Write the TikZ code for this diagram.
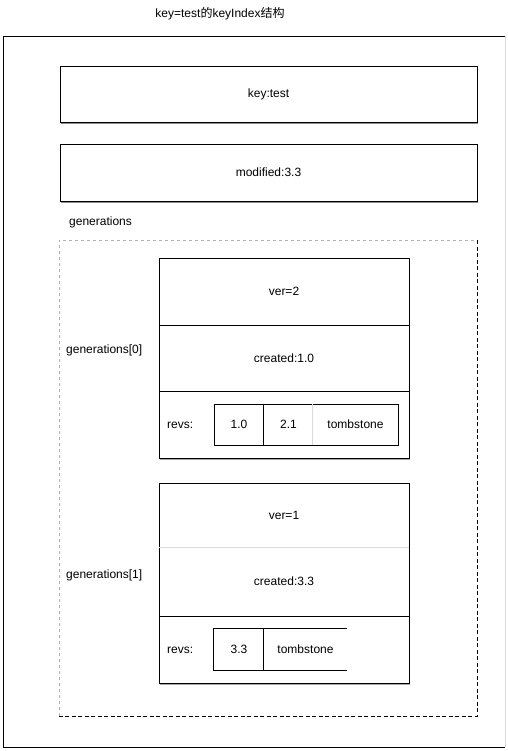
\documentclass[tikz,border=0pt]{standalone}
\usepackage{fontspec}
\setmainfont{Liberation Sans}
\newfontfamily\cjk{Noto Sans CJK SC}
\usetikzlibrary{shadows}
\tikzset{
  every node/.style={font=\fontsize{12}{14}\selectfont, inner sep=0pt},
  box/.style={draw=black, line width=0.9pt, fill=white, minimum width=417pt, minimum height=56pt,
    drop shadow={shadow xshift=0.8pt, shadow yshift=-1.6pt, fill=black!45, opacity=1}},
  gbox/.style={draw=black, line width=0.9pt, fill=white, minimum width=250pt, minimum height=200pt,
    drop shadow={shadow xshift=0.8pt, shadow yshift=-1.6pt, fill=black!35, opacity=1}},
  cell/.style={draw=black, line width=0.9pt, minimum width=250pt},
  softcell/.style={minimum width=250pt},
  lbl/.style={anchor=west},
  ln/.style={line width=0.9pt},
  faint/.style={line width=0.8pt, draw=black!15},
}
\begin{document}
\begin{tikzpicture}[x=1pt,y=-1pt]
\useasboundingbox (0,0) rectangle (507,751);
% title
\node (title) at (220,14) {key=test{\cjk 的}keyIndex{\cjk 结构}};
% outer frame
\coordinate (otl) at (3.5,36);
\coordinate (otr) at (505,36);
\coordinate (obl) at (3.5,747);
\coordinate (obr) at (505,747);
\draw[ln] (otr) -- (otl) -- (obl) -- (obr);
\draw[faint] (otr) -- (obr);
% key / modified
\node[box] (key) at (268.5,94) {key:test};
\node[box, minimum height=57pt] (mod) at (268.5,172.5) {modified:3.3};
\node[lbl] (gens) at (69,222) {generations};
% dashed generations box
\coordinate (dtl) at (59,240);
\coordinate (dtr) at (477,240);
\coordinate (dbl) at (59,716);
\coordinate (dbr) at (477,716);
\draw[line width=0.8pt, black!30, dashed] (dbl) -- (dtl) -- (dtr);
\draw[line width=0.9pt, dashed, dash pattern=on 4pt off 2.5pt] (dtr) -- (dbr) -- (dbl);
% generations[0]
\node[lbl] (g0lbl) at (66,350) {generations[0]};
\node[gbox] (g0) at (284,358) {};
\node[cell, minimum height=67pt] (g0ver) at (284,291.5) {ver=2};
\node[cell, minimum height=66pt] (g0cre) at (284,358) {created:1.0};
\node[cell, minimum height=67pt] (g0rev) at (284,424.5) {};
\node[lbl] (g0revs) at (167,425) {revs:};
\node[draw=black, line width=0.9pt, minimum width=184pt, minimum height=41pt] (rv0) at (306,424.5) {};
\node (r0a) at (239,424.5) {1.0};
\node (r0b) at (288.5,424.5) {2.1};
\node (r0c) at (355.5,424.5) {tombstone};
\draw[ln] ([xshift=50pt]rv0.north west) -- ([xshift=50pt]rv0.south west);
\draw[faint] ([xshift=99pt]rv0.north west) -- ([xshift=99pt]rv0.south west);
% generations[1]
\node[lbl] (g1lbl) at (66,575) {generations[1]};
\node[gbox] (g1) at (284,583) {};
\node[softcell, minimum height=64pt] (g1ver) at (284,515) {ver=1};
\node[softcell, minimum height=69pt] (g1cre) at (284,581.5) {created:3.3};
\draw[faint] (g1ver.south west) -- (g1ver.south east);
\draw[ln] (g1cre.south west) -- (g1cre.south east);
\node[lbl] (g1revs) at (167,650) {revs:};
\node[minimum width=133pt, minimum height=41pt] (rv1) at (280.5,649.5) {};
\draw[ln] (rv1.north east) -- (rv1.north west) -- (rv1.south west) -- (rv1.south east);
\draw[ln] ([xshift=50pt]rv1.north west) -- ([xshift=50pt]rv1.south west);
\node (r1a) at (239,649.5) {3.3};
\node (r1b) at (305.5,649.5) {tombstone};
\end{tikzpicture}
\end{document}
